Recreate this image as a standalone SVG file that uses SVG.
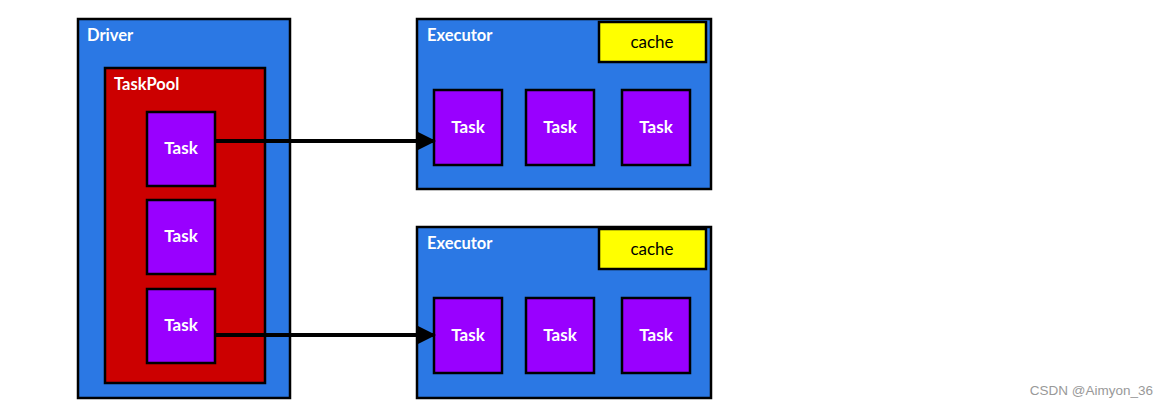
<svg xmlns="http://www.w3.org/2000/svg" width="1168" height="408" viewBox="0 0 1168 408">
<defs>
<style>
.blue{fill:#2b78e4;stroke:#000;stroke-width:2.5}
.red{fill:#cc0000;stroke:#000;stroke-width:2.5}
.task{fill:#9900ff;stroke:#000;stroke-width:2.5}
.cache{fill:#ffff00;stroke:#000;stroke-width:2.5}
.lbl{font-family:Lato,"Open Sans",sans-serif;font-size:16.5px;font-weight:bold;fill:#fff}
.tl{font-family:Lato,"Open Sans",sans-serif;font-size:17px;font-weight:bold;fill:#fff;text-anchor:middle}
.cl{font-family:Lato,"Open Sans",sans-serif;font-size:17px;fill:#000;text-anchor:middle}
.edge{stroke:#000;stroke-width:4;fill:none}
</style>
<marker id="ah" markerWidth="5" markerHeight="5" refX="4.5" refY="2.5" orient="auto" markerUnits="strokeWidth">
<path d="M0,0 L5,2.5 L0,5 Z" fill="#000"/>
</marker>
</defs>
<rect width="1168" height="408" fill="#fff"/>
<g id="driver">
<rect class="blue" x="78" y="19" width="212" height="379"/>
<text class="lbl" x="87" y="41">Driver</text>
</g>
<g id="taskpool">
<rect class="red" x="105" y="68" width="160" height="315"/>
<text class="lbl" x="114" y="90">TaskPool</text>
</g>
<g id="dtask1">
<rect class="task" x="147" y="112" width="68" height="74"/>
<text class="tl" x="181" y="154">Task</text>
</g>
<g id="dtask2">
<rect class="task" x="147" y="200" width="68" height="74"/>
<text class="tl" x="181" y="242">Task</text>
</g>
<g id="dtask3">
<rect class="task" x="147" y="289" width="68" height="74"/>
<text class="tl" x="181" y="331">Task</text>
</g>
<g id="executor1">
<rect class="blue" x="417" y="19" width="294" height="170"/>
<text class="lbl" x="427" y="41">Executor</text>
<rect class="cache" x="599" y="22" width="107" height="40"/>
<text class="cl" x="652" y="48">cache</text>
</g>
<g id="e1task1"><rect class="task" x="434" y="90" width="68" height="75"/><text class="tl" x="468" y="133">Task</text></g>
<g id="e1task2"><rect class="task" x="526" y="90" width="68" height="75"/><text class="tl" x="560" y="133">Task</text></g>
<g id="e1task3"><rect class="task" x="622" y="90" width="68" height="75"/><text class="tl" x="656" y="133">Task</text></g>
<g id="executor2">
<rect class="blue" x="417" y="227" width="294" height="171"/>
<text class="lbl" x="427" y="249">Executor</text>
<rect class="cache" x="599" y="229" width="107" height="40"/>
<text class="cl" x="652" y="255">cache</text>
</g>
<g id="e2task1"><rect class="task" x="434" y="298" width="68" height="75"/><text class="tl" x="468" y="341">Task</text></g>
<g id="e2task2"><rect class="task" x="526" y="298" width="68" height="75"/><text class="tl" x="560" y="341">Task</text></g>
<g id="e2task3"><rect class="task" x="622" y="298" width="68" height="75"/><text class="tl" x="656" y="341">Task</text></g>
<g id="connectors">
<line class="edge" x1="215" y1="141" x2="434" y2="141" marker-end="url(#ah)"/>
<line class="edge" x1="215" y1="335" x2="434" y2="335" marker-end="url(#ah)"/>
</g>
<text x="1153" y="395" font-family="Liberation Sans, Arial, sans-serif" font-size="13.5" fill="#999" text-anchor="end">CSDN @Aimyon_36</text>
</svg>
